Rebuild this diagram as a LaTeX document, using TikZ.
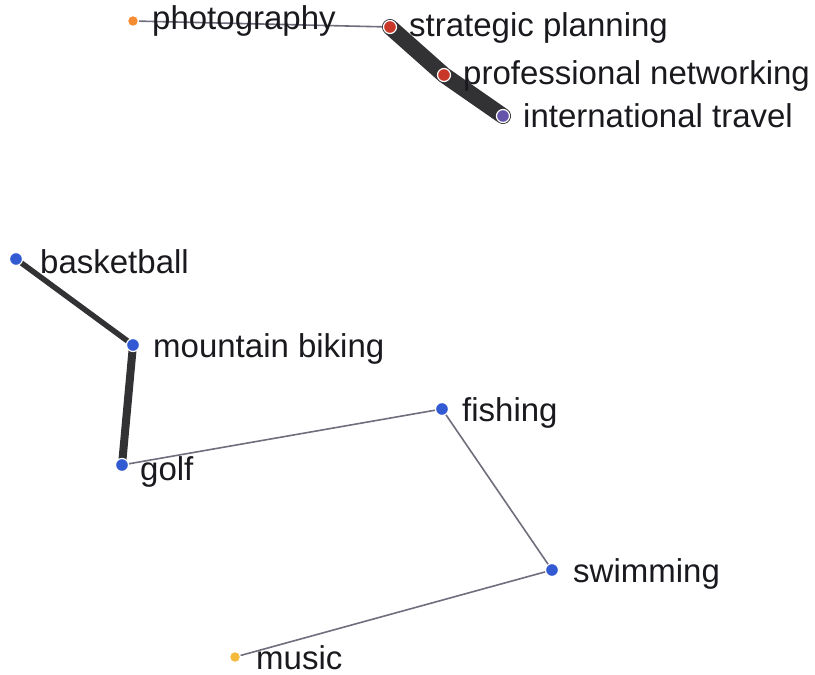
\documentclass[tikz,border=0pt]{standalone}
\usepackage{fontspec}
\setmainfont{Liberation Sans}
\definecolor{cOrange}{RGB}{245,140,50}
\definecolor{cRed}{RGB}{200,55,40}
\definecolor{cPurple}{RGB}{100,85,170}
\definecolor{cBlue}{RGB}{50,90,210}
\definecolor{cYellow}{RGB}{245,185,60}
\definecolor{edgeGray}{RGB}{110,110,125}
\definecolor{edgeDark}{RGB}{50,50,53}
\definecolor{textDark}{RGB}{25,25,30}
\begin{document}
\begin{tikzpicture}[x=1pt,y=-1pt,
  dotnode/.style={circle, inner sep=0pt, minimum size=13pt, draw=white, line width=1.2pt, fill=#1},
  lab/.style={anchor=base west, inner sep=0pt, text=textDark, font=\fontsize{33}{40}\selectfont},
  thinedge/.style={draw=edgeGray, line width=1.6pt},
  heavyedge/.style={draw=edgeDark, line width=#1, line cap=round}]
\useasboundingbox (0,0) rectangle (815,675);
% positions
\coordinate (ph) at (133,21);
\coordinate (sp) at (390,27);
\coordinate (pn) at (444,75);
\coordinate (it) at (503,116);
\coordinate (bb) at (16,259);
\coordinate (mb) at (133,345);
\coordinate (go) at (122,465);
\coordinate (fi) at (442,409);
\coordinate (sw) at (552,570);
\coordinate (mu) at (235,657);
% edges
\draw[thinedge] (ph) -- (sp);
\draw[heavyedge=16pt] (sp) -- (pn) -- (it);
\draw[heavyedge=5.5pt] (bb) -- (mb);
\draw[heavyedge=8pt] (mb) -- (go);
\draw[thinedge] (go) -- (fi);
\draw[thinedge] (fi) -- (sw);
\draw[thinedge] (sw) -- (mu);
% dots
\node[dotnode=cOrange, minimum size=11pt] (phd) at (ph) {};
\node[dotnode=cRed] (spd) at (sp) {};
\node[dotnode=cRed] (pnd) at (pn) {};
\node[dotnode=cPurple] (itd) at (it) {};
\node[dotnode=cBlue] (bbd) at (bb) {};
\node[dotnode=cBlue] (mbd) at (mb) {};
\node[dotnode=cBlue] (god) at (go) {};
\node[dotnode=cBlue] (fid) at (fi) {};
\node[dotnode=cBlue] (swd) at (sw) {};
\node[dotnode=cYellow, minimum size=11pt] (mud) at (mu) {};
% labels
\node[lab] (phl) at (152,29) {photography};
\node[lab] (spl) at (409,36) {strategic planning};
\node[lab] (pnl) at (463,84) {professional networking};
\node[lab] (itl) at (523,127) {international travel};
\node[lab] (bbl) at (40,273) {basketball};
\node[lab] (mbl) at (153,357) {mountain biking};
\node[lab] (gol) at (140,480) {golf};
\node[lab] (fil) at (462,421) {fishing};
\node[lab] (swl) at (573,582) {swimming};
\node[lab] (mul) at (256,669) {music};
\end{tikzpicture}
\end{document}
